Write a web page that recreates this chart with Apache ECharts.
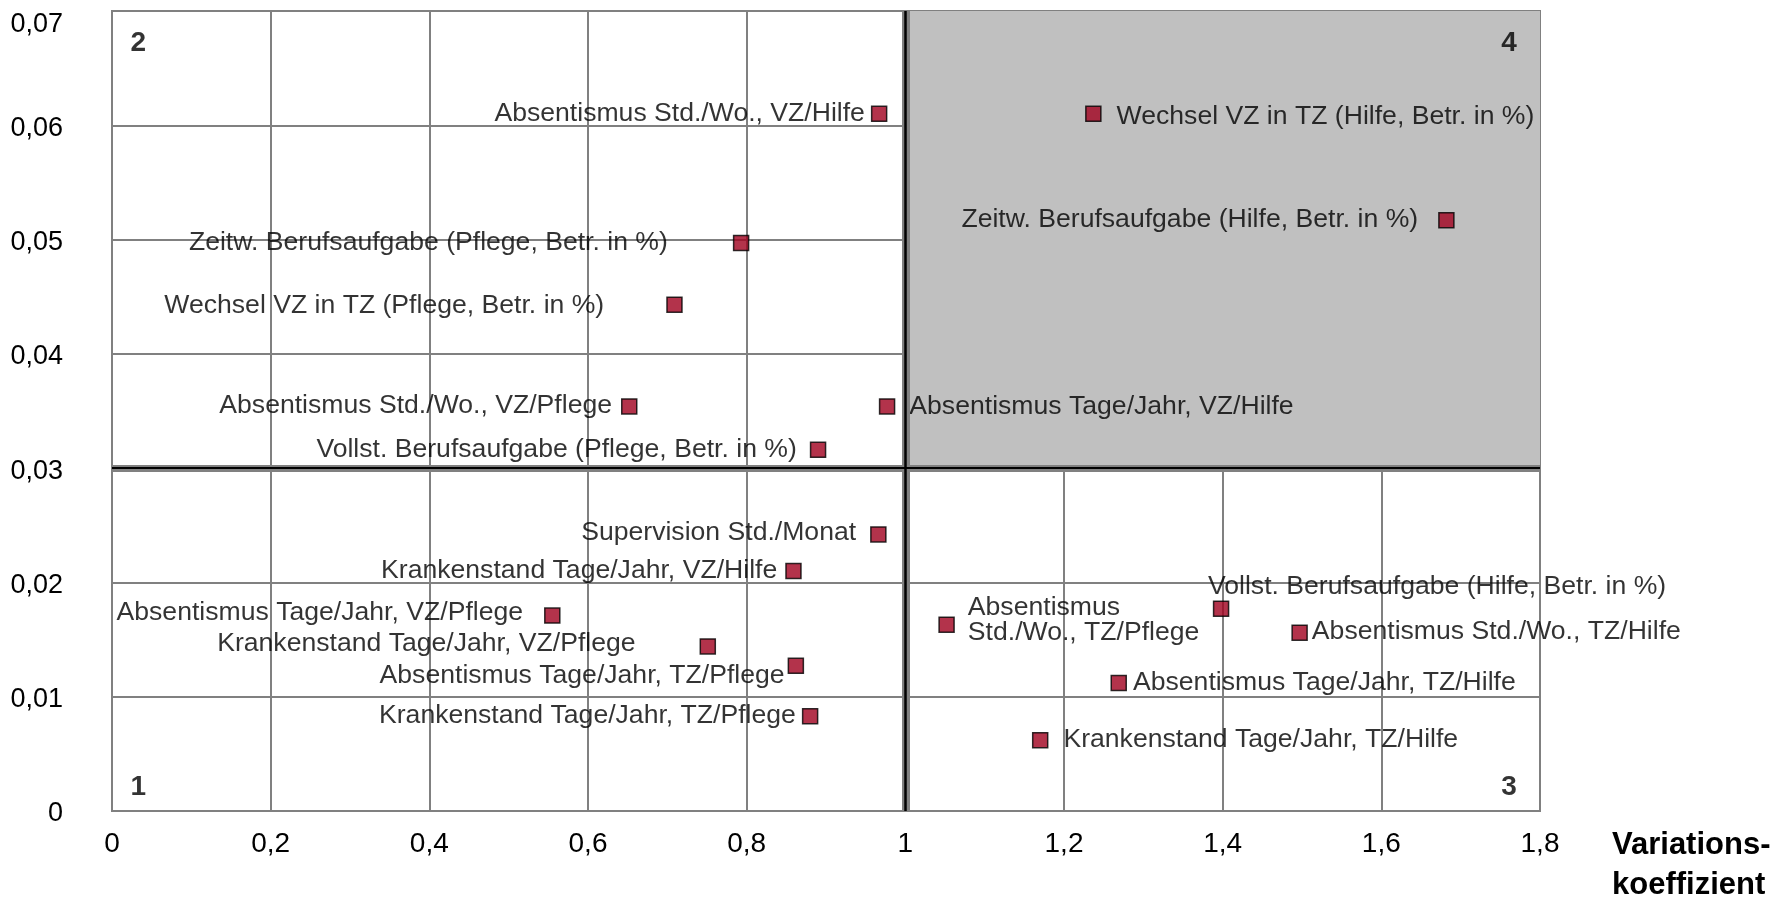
<!DOCTYPE html>
<html>
<head>
<meta charset="utf-8">
<script src="https://cdn.jsdelivr.net/npm/echarts@6/dist/echarts.min.js"></script>
<style>
html, body { margin: 0; padding: 0; background: #fff; }
#chart { width: 1779px; height: 898px; }
</style>
</head>
<body>
<div id="chart"></div>
<script>
// Kennzahlen: Variationskoeffizient (x) gegen Wert (y)
const names = [
  'Absentismus Std./Wo., VZ/Hilfe',
  'Zeitw. Berufsaufgabe (Pflege, Betr. in %)',
  'Wechsel VZ in TZ (Pflege, Betr. in %)',
  'Absentismus Std./Wo., VZ/Pflege',
  'Absentismus Tage/Jahr, VZ/Hilfe',
  'Vollst. Berufsaufgabe (Pflege, Betr. in %)',
  'Wechsel VZ in TZ (Hilfe, Betr. in %)',
  'Zeitw. Berufsaufgabe (Hilfe, Betr. in %)',
  'Supervision Std./Monat',
  'Krankenstand Tage/Jahr, VZ/Hilfe',
  'Absentismus Tage/Jahr, VZ/Pflege',
  'Krankenstand Tage/Jahr, VZ/Pflege',
  'Absentismus Tage/Jahr, TZ/Pflege',
  'Krankenstand Tage/Jahr, TZ/Pflege',
  'Absentismus\nStd./Wo., TZ/Pflege',
  'Vollst. Berufsaufgabe (Hilfe, Betr. in %)',
  'Absentismus Std./Wo., TZ/Hilfe',
  'Absentismus Tage/Jahr, TZ/Hilfe',
  'Krankenstand Tage/Jahr, TZ/Hilfe'
];
const variation = [0.967, 0.793, 0.709, 0.652, 0.977, 0.890, 1.237, 1.682, 0.966, 0.859,
                   0.555, 0.751, 0.862, 0.880, 1.052, 1.398, 1.497, 1.269, 1.170];
const values = [0.0610, 0.0497, 0.0443, 0.0354, 0.0354, 0.0316, 0.0610, 0.0517, 0.0242, 0.0210,
                0.0171, 0.0144, 0.0127, 0.0083, 0.0163, 0.0177, 0.0156, 0.0112, 0.0062];

const xTicks = { min: 0, max: 1.8, interval: 0.2 };
const yTicks = { min: 0, max: 0.07, interval: 0.01 };
const thresholdX = 1;
const thresholdY = 0.03;

const quadrantNames = ['1', '2', '3', '4'];
const quadrantX = [0.033, 0.033, 1.761, 1.761];
const quadrantY = [0.0021, 0.0672, 0.0021, 0.0672];

// label placement: side, distance, vertical offset
const labelLayout = [
  ['left', 6, 0], ['left', 65, 0], ['left', 62, 1], ['left', 9, -1],
  ['right', 14, 0], ['left', 13, 0], ['right', 15, 3], ['left', 20, 0],
  ['left', 14, -2], ['left', 8, 0], ['left', 21, -3], ['left', 64, -3],
  ['left', 3, 10], ['left', 6, 0], ['right', 13, -5], ['inside', [216, -22]],
  ['right', 4, -1], ['right', 6, 0], ['right', 15, 0]
];

const font = "'Liberation Sans', Arial, sans-serif";
const comma = v => String(v).replace('.', ',');

const points = names.map((n, i) => {
  const l = labelLayout[i];
  const label = l[0] === 'inside'
    ? { position: 'inside', offset: l[1] }
    : { position: l[0], distance: l[1], offset: [0, l[2]] };
  return { name: n, value: [variation[i], values[i]], label: label };
});

const chart = echarts.init(document.getElementById('chart'));
chart.setOption({
  animation: false,
  backgroundColor: '#fff',
  textStyle: { fontFamily: font },
  grid: {
    left: 112, right: 239, top: 11, bottom: 87,
    outerBoundsMode: 'none',
    show: true, borderColor: '#808080', borderWidth: 2
  },
  xAxis: {
    type: 'value',
    min: xTicks.min, max: xTicks.max, interval: xTicks.interval,
    name: 'Variations-\nkoeffizient',
    nameLocation: 'end',
    nameGap: 72,
    nameTextStyle: {
      color: '#000', fontFamily: font, fontWeight: 'bold', fontSize: 31,
      align: 'left', verticalAlign: 'top', lineHeight: 40, padding: [14, 0, 0, 0]
    },
    axisLine: { lineStyle: { color: '#808080', width: 2 } },
    axisTick: { show: false },
    splitLine: { lineStyle: { color: '#808080', width: 2 } },
    axisLabel: { color: '#000', fontSize: 28, fontFamily: font, margin: 19, formatter: comma }
  },
  yAxis: {
    type: 'value',
    min: yTicks.min, max: yTicks.max, interval: yTicks.interval,
    axisLine: { lineStyle: { color: '#808080', width: 2 } },
    axisTick: { show: false },
    splitLine: { lineStyle: { color: '#808080', width: 2 } },
    axisLabel: {
      color: '#000', fontSize: 27, fontFamily: font, margin: 49,
      formatter: v => v === yTicks.max ? '{top|' + comma(v) + '}' : '{std|' + comma(v) + '}',
      rich: {
        top: { fontSize: 27, fontFamily: font, color: '#000', padding: [28, 0, 0, 0] },
        std: { fontSize: 27, fontFamily: font, color: '#000', padding: [6, 0, 0, 0] }
      }
    }
  },
  series: [
    {
      // grey quadrant 4, behind the grid lines
      type: 'scatter',
      z: -1,
      silent: true,
      data: [],
      markArea: {
        silent: true,
        itemStyle: { color: '#C0C0C0' },
        data: [[{ xAxis: thresholdX, yAxis: thresholdY }, { xAxis: xTicks.max, yAxis: yTicks.max }]]
      }
    },
    {
      // quadrant numbers
      type: 'scatter',
      silent: true,
      symbol: 'rect',
      symbolSize: 1,
      itemStyle: { color: 'rgba(0,0,0,0)' },
      data: quadrantNames.map((q, i) => ({ name: q, value: [quadrantX[i], quadrantY[i]] })),
      label: {
        show: true, position: 'inside', formatter: '{b}',
        color: '#000', fontFamily: font, fontWeight: 'bold', fontSize: 28
      }
    },
    {
      type: 'scatter',
      silent: true,
      symbol: 'rect',
      symbolSize: 15,
      itemStyle: { color: '#A0001E', borderColor: '#000', borderWidth: 1.5 },
      label: {
        show: true, formatter: '{b}', color: '#000',
        fontFamily: font, fontSize: 26.6, lineHeight: 25
      },
      data: points,
      markLine: {
        silent: true,
        symbol: ['none', 'none'],
        label: { show: false },
        data: [
          { xAxis: thresholdX, lineStyle: { color: '#808080', width: 8, type: 'solid' } },
          { yAxis: thresholdY, lineStyle: { color: '#808080', width: 7, type: 'solid' } },
          { xAxis: thresholdX, lineStyle: { color: '#000', width: 2.5, type: 'solid' } },
          { yAxis: thresholdY, lineStyle: { color: '#000', width: 2, type: 'solid' } }
        ]
      }
    }
  ]
});
</script>
</body>
</html>
